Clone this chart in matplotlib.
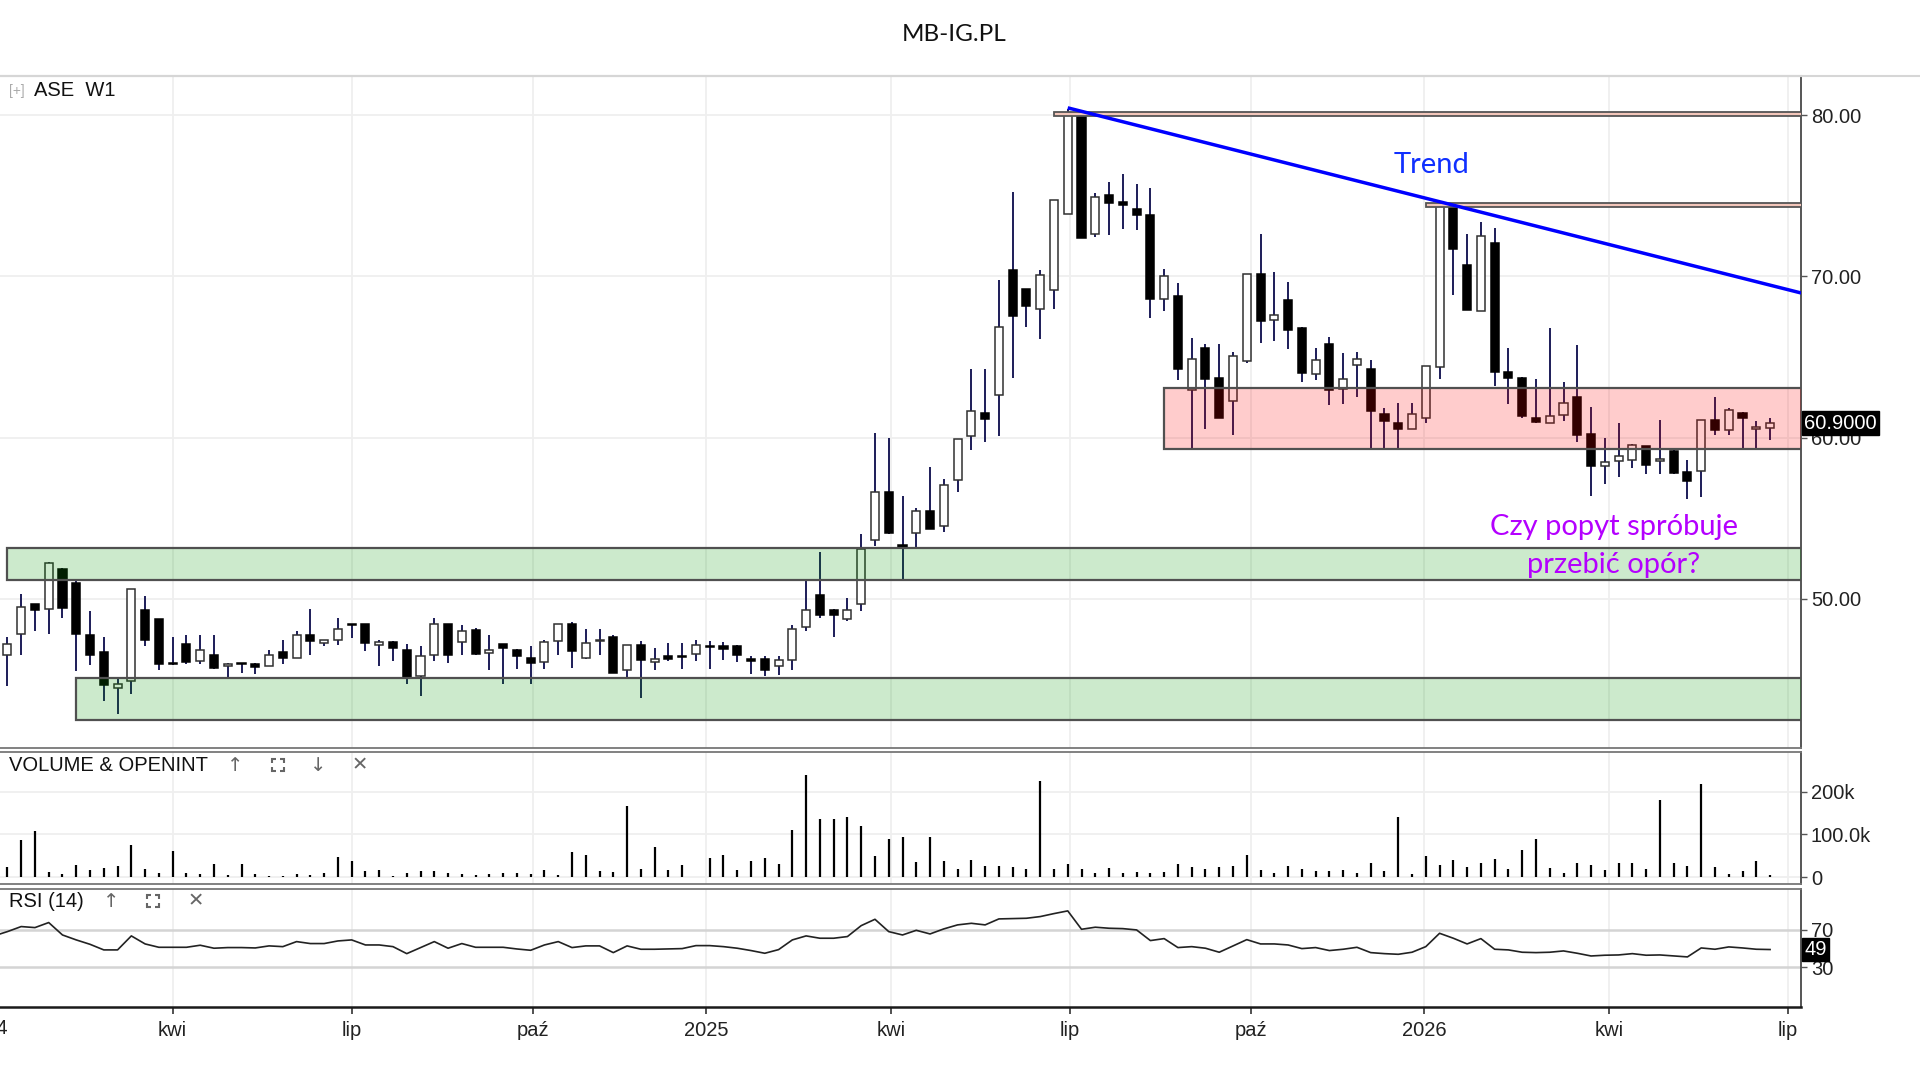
import numpy as np
import pandas as pd
import matplotlib
matplotlib.use("Agg")
import matplotlib.pyplot as plt
import matplotlib.dates as mdates
import matplotlib.transforms as mtransforms
from matplotlib.patches import Rectangle
from matplotlib.lines import Line2D

plt.rcParams['font.family'] = ['Liberation Sans', 'DejaVu Sans']

# ---------------- data ----------------
title = "MB-IG.PL"
symbol_label = "ASE  W1"
first_week = "2024-01-08"

opens = [46.54, 47.83, 49.65, 49.34, 51.82, 51.0, 47.78, 46.7, 44.47, 44.89,
         49.28, 48.72, 46.02, 47.2, 46.13, 46.54, 45.82, 45.98, 45.98, 45.82,
         46.69, 46.34, 47.78, 47.27, 47.43, 48.4, 48.41, 47.12, 47.33, 46.79,
         45.2, 46.5, 48.41, 47.33, 48.03, 46.65, 47.2, 46.85, 46.3, 46.07,
         47.37, 48.41, 46.3, 47.35, 47.62, 45.55, 47.14, 46.05, 46.44, 46.44,
         46.58, 47.08, 47.08, 47.08, 46.27, 46.27, 45.8, 46.17, 48.22, 50.21,
         49.32, 48.76, 49.66, 53.67, 56.65, 53.35, 54.05, 55.42, 54.52, 57.34,
         60.11, 61.51, 62.62, 70.41, 69.19, 67.95, 69.17, 73.88, 80.1, 72.6,
         75.02, 74.6, 74.19, 73.82, 68.57, 68.76, 62.93, 65.56, 63.7, 62.27,
         64.77, 70.12, 67.27, 68.51, 66.82, 63.93, 65.83, 62.98, 64.48, 64.28,
         61.44, 60.93, 60.54, 61.24, 64.39, 74.45, 70.68, 67.84, 72.08, 64.04,
         63.71, 61.2, 60.93, 61.4, 62.49, 60.23, 58.25, 58.52, 58.62, 59.48,
         58.52, 59.18, 57.86, 57.9, 61.09, 60.47, 61.55, 60.52, 60.58]
highs = [47.62, 50.31, 49.7, 52.3, 51.9, 51.14, 49.23, 47.62, 45.05, 50.6,
         50.17, 48.75, 47.62, 47.78, 47.78, 47.78, 46.0, 46.0, 46.0, 46.85,
         47.41, 47.99, 49.34, 47.45, 48.82, 48.42, 48.45, 47.47, 47.35, 47.2,
         47.06, 48.82, 48.45, 48.36, 48.2, 47.78, 47.22, 46.87, 47.06, 47.47,
         48.45, 48.57, 48.14, 48.14, 47.78, 47.14, 47.39, 46.94, 47.25, 47.25,
         47.45, 47.39, 47.29, 47.1, 46.42, 46.42, 46.42, 48.34, 51.18, 52.88,
         49.34, 50.04, 53.99, 60.28, 59.96, 56.4, 55.63, 58.15, 57.44, 59.9,
         64.22, 64.22, 69.77, 75.2, 69.2, 70.41, 74.73, 80.4, 80.3, 75.16,
         75.85, 76.32, 75.74, 75.48, 70.43, 69.59, 66.18, 65.83, 65.79, 65.31,
         70.12, 72.6, 70.27, 69.65, 66.85, 65.56, 66.24, 65.27, 65.31, 64.79,
         61.86, 62.16, 62.16, 64.43, 74.5, 74.5, 72.6, 73.36, 72.99, 65.57,
         63.73, 63.63, 66.8, 63.46, 65.73, 61.88, 60.0, 60.93, 59.6, 59.5,
         61.09, 59.2, 58.58, 61.09, 62.54, 61.86, 61.57, 61.03, 61.24]
lows = [44.58, 46.5, 47.99, 47.83, 48.78, 45.5, 45.88, 43.64, 42.82, 44.06,
        47.06, 45.55, 45.88, 45.92, 45.96, 45.67, 45.13, 45.4, 45.3, 45.8,
        45.92, 46.3, 46.54, 47.06, 47.12, 47.58, 46.75, 45.82, 46.13, 44.72,
        43.95, 46.13, 46.02, 46.5, 46.5, 45.55, 44.72, 45.67, 44.72, 45.67,
        46.54, 45.71, 46.24, 46.54, 45.4, 44.99, 43.83, 45.59, 46.11, 45.65,
        46.11, 45.65, 46.17, 46.05, 45.32, 45.18, 45.28, 45.59, 47.97, 48.8,
        47.6, 48.59, 49.23, 53.24, 54.0, 51.15, 53.2, 54.3, 54.14, 56.65,
        59.25, 59.74, 60.11, 63.69, 66.84, 66.14, 68.0, 73.88, 72.39, 72.43,
        72.58, 72.91, 72.85, 67.42, 67.83, 63.55, 59.32, 60.5, 61.18, 60.14,
        64.63, 65.87, 65.99, 65.48, 63.45, 63.55, 62.0, 62.05, 62.52, 59.32,
        59.38, 59.38, 60.5, 60.93, 63.63, 68.82, 67.9, 67.84, 63.22, 62.08,
        61.2, 60.93, 60.9, 61.03, 59.71, 56.39, 57.13, 57.55, 58.14, 57.75,
        57.75, 57.75, 56.21, 56.31, 60.16, 60.16, 59.3, 59.24, 59.86]
closes = [47.2, 49.48, 49.32, 52.24, 49.44, 47.83, 46.5, 44.64, 44.68, 50.58,
          47.41, 45.96, 45.92, 46.09, 46.83, 45.71, 45.98, 45.94, 45.78, 46.54,
          46.34, 47.78, 47.37, 47.41, 48.14, 48.35, 47.27, 47.33, 46.92, 45.13,
          46.44, 48.41, 46.5, 47.99, 46.58, 46.85, 46.92, 46.44, 46.02, 47.33,
          48.41, 46.75, 47.27, 47.47, 45.4, 47.12, 46.17, 46.27, 46.27, 46.4,
          47.1, 47.0, 46.87, 46.48, 46.11, 45.55, 46.17, 48.14, 49.32, 48.96,
          48.96, 49.32, 53.07, 56.65, 54.05, 53.18, 55.42, 54.35, 57.08, 59.89,
          61.66, 61.13, 66.84, 67.53, 68.17, 70.09, 74.73, 80.1, 72.39, 74.95,
          74.55, 74.4, 73.78, 68.57, 70.0, 64.28, 64.86, 63.66, 61.18, 65.04,
          70.12, 67.23, 67.58, 66.65, 64.01, 64.79, 62.93, 63.66, 64.86, 61.65,
          61.03, 60.54, 61.46, 64.43, 74.45, 71.67, 67.9, 72.47, 64.08, 63.71,
          61.36, 60.95, 61.34, 62.16, 60.16, 58.21, 58.47, 58.87, 59.55, 58.31,
          58.68, 57.79, 57.28, 61.09, 60.47, 61.71, 61.2, 60.68, 60.9]

volume_k = [25, 87.5, 108.6, 11.7, 7, 28.9, 17.2, 22.7, 26.6, 75.8,
            19.5, 10.9, 61.7, 10.9, 7, 31.3, 5.5, 31.3, 7.8, 3.9,
            3.1, 7.8, 5.5, 10.9, 46.9, 38.3, 14.8, 17.2, 3.9, 10.9,
            14.8, 14.8, 9.4, 7.8, 5.5, 7.8, 9.4, 10.9, 7.8, 17.2,
            5.5, 58.6, 52.3, 14.8, 11.7, 167, 19.5, 70.3, 17.2, 28.9,
            1.6, 46.1, 52.3, 17.2, 38.3, 46.1, 32, 111, 240, 136.7,
            136.7, 140.6, 120.3, 50, 89.8, 93.8, 35.2, 93.8, 38.3, 19.5,
            40.6, 26.6, 26.6, 23.4, 19.5, 225.8, 19.5, 31.3, 19.5, 10.9,
            22.7, 10.9, 13.3, 10.9, 13.3, 31.3, 23.4, 19.5, 23.4, 26.6,
            52.3, 17.2, 10.9, 26.6, 19.5, 14.8, 14.8, 17.2, 10.9, 34.4,
            14.8, 140.6, 7.8, 50, 28.9, 40.6, 23.4, 34.4, 43, 19.5,
            64, 89.8, 22.7, 10.9, 34.4, 28.9, 17.2, 34.4, 34.4, 19.5,
            181, 34.4, 26.6, 218.8, 23.4, 7.8, 14.8, 38.3, 5.5]

rsi_start = "2024-01-01"
rsi_values = [63.5,
              68.2, 73.6, 72.5, 77.9, 64.6, 59.3, 54.6, 48.6, 48.6, 63.6,
              55, 51.4, 51.4, 51.4, 53.6, 50.4, 51.1, 51.1, 50.7, 52.9,
              52.1, 57.5, 55.4, 55.4, 58.2, 59.3, 53.9, 53.9, 52.1, 44.6,
              51.1, 57.5, 50.4, 55.4, 51.4, 51.4, 51.4, 49.6, 48.2, 53.9,
              57.5, 51.1, 52.9, 52.9, 45.7, 52.9, 49.3, 49.3, 49.6, 50,
              53.2, 53.2, 52.1, 50.4, 47.9, 45, 48.9, 59.3, 63.6, 61.1,
              61.1, 62.9, 74.6, 81.4, 68.2, 64.6, 69.6, 65.7, 71.1, 75.4,
              77.1, 75.4, 81.8, 82.1, 82.5, 84.3, 87.5, 90.4, 70.7, 72.9,
              71.8, 71.4, 70, 58.6, 60.7, 51.1, 52.1, 50.4, 46.1, 52.9,
              59.6, 55, 55, 53.9, 50, 51.1, 47.9, 49.3, 51.4, 45.7,
              44.6, 43.9, 46.1, 52.1, 66.4, 61.1, 55, 60.7, 49.3, 48.6,
              46.1, 45.7, 46.1, 47.5, 45, 42.1, 42.9, 43.2, 44.6, 42.9,
              43.2, 42.1, 41.1, 50.7, 49.3, 51.8, 50.7, 49.3, 49]

# the platform puts its year separators a few days before 1 January
tick_dates = ["2023-12-28", "2024-04-01", "2024-07-01", "2024-10-01", "2024-12-28",
              "2025-04-01", "2025-07-01", "2025-10-01", "2025-12-28", "2026-04-01",
              "2026-07-01"]
tick_labels = ["2024", "kwi", "lip", "paź", "2025", "kwi", "lip", "paź", "2026", "kwi", "lip"]

price_ticks = [50, 60, 70, 80]
volume_ticks = [0, 100000, 200000]
volume_tick_labels = ["0", "100.0k", "200k"]
rsi_ticks = [30, 70]

support_upper = ("2024-01-08", 51.18, 53.13)
support_lower = ("2024-02-12", 42.5, 45.11)
resistance_zone = ("2025-08-18", 59.3, 63.08)
resistance_levels = [("2025-06-23", 80.05), ("2025-12-29", 74.42)]
trend_points = [("2025-06-30", 80.45), ("2026-01-14", 74.35)]
last_price = 60.9
last_rsi = 49

# ---------------- derived ----------------
o = np.array(opens); h = np.array(highs); l = np.array(lows); c = np.array(closes)
dates = pd.date_range(first_week, periods=len(o), freq="7D")
x = mdates.date2num(dates)
rsi_dates = pd.date_range(rsi_start, periods=len(rsi_values), freq="7D")
xr = mdates.date2num(rsi_dates)
vol = np.array(volume_k) * 1000

x0 = mdates.date2num(pd.Timestamp(first_week)) - 3.76
x1 = mdates.date2num(pd.Timestamp(first_week)) + 911.8
tick_x = mdates.date2num(pd.to_datetime(tick_dates))

# ---------------- figure ----------------
fig = plt.figure(figsize=(19.2, 10.8), dpi=100)
W = 0.9381
ax = fig.add_axes([0.0, 0.3077, W, 0.6220])
axv = fig.add_axes([0.0, 0.1812, W, 0.1222])
axr = fig.add_axes([0.0, 0.0673, W, 0.1096])

grid_c = "#efefef"
for a in (ax, axv, axr):
    a.set_xticks(tick_x)
    a.xaxis.grid(True, color=grid_c, lw=1.3, zorder=0)
    a.set_axisbelow(True)
    a.spines['left'].set_visible(False)
    a.spines['right'].set_color("#555555")
    a.spines['right'].set_linewidth(1.4)
    a.yaxis.tick_right()
    a.tick_params(axis='y', which='both', direction='out', length=4, width=1,
                  color="#555555", labelsize=14.5, labelcolor="#222222", pad=3)
    a.set_facecolor("white")

for a in (ax, axv):
    a.tick_params(axis='x', length=0, labelbottom=False)

# ---- main price panel ----
ax.set_ylim(40.76, 82.43)
ax.set_yticks(price_ticks)
ax.set_yticklabels([f"{v:.2f}" for v in price_ticks])
ax.yaxis.grid(True, color=grid_c, lw=1.3, zorder=0)
ax.spines['top'].set_color("#d0d0d0")
ax.spines['top'].set_linewidth(1.5)
ax.spines['bottom'].set_color("#777777")
ax.spines['bottom'].set_linewidth(1.3)

up = c >= o
body_lo = np.minimum(o, c)
body_h = np.maximum(np.abs(c - o), 0.07)
ax.vlines(x, l, h, color="#1c1c58", lw=1.4, zorder=2)
ax.bar(x[up], body_h[up], bottom=body_lo[up], width=4.1, facecolor="white",
       edgecolor="#303030", linewidth=1.1, zorder=3)
ax.bar(x[~up], body_h[~up], bottom=body_lo[~up], width=4.1, facecolor="black",
       edgecolor="black", linewidth=1.1, zorder=3)

def zone(spec, face):
    xs = mdates.date2num(pd.Timestamp(spec[0]))
    ax.add_patch(Rectangle((xs, spec[1]), x1 - xs + 5, spec[2] - spec[1],
                           facecolor=face, edgecolor="#505050", linewidth=1.6,
                           zorder=4))

zone(support_upper, (0.0, 0.6, 0.0, 0.2))
zone(support_lower, (0.0, 0.6, 0.0, 0.2))
zone(resistance_zone, (1.0, 0.0, 0.0, 0.2))

for d, lvl in resistance_levels:
    xs = mdates.date2num(pd.Timestamp(d))
    ax.add_patch(Rectangle((xs, lvl - 0.12), x1 - xs + 5, 0.24,
                           facecolor="#f3c6ba", edgecolor="#555555",
                           linewidth=1.3, zorder=5))

(ta, ya), (tb, yb) = trend_points
xa = mdates.date2num(pd.Timestamp(ta)); xb = mdates.date2num(pd.Timestamp(tb))
slope = (yb - ya) / (xb - xa)
ax.plot([xa, x1], [ya, ya + slope * (x1 - xa)], color="#0000ff", lw=2.5,
        solid_capstyle='butt', zorder=6)

lab_tr = mtransforms.blended_transform_factory(ax.transAxes, ax.transData)
ax.text(1.0 + 3 / 1801, last_price, f"{last_price:.4f}", transform=lab_tr,
        ha='left', va='center', color='white', fontsize=14.5, zorder=10,
        clip_on=False,
        bbox=dict(boxstyle='square,pad=0.12', facecolor='black', edgecolor='black'))

# ---- volume panel ----
axv.set_ylim(-16400, 292000)
axv.set_yticks(volume_ticks)
axv.set_yticklabels(volume_tick_labels)
axv.yaxis.grid(True, color=grid_c, lw=1.3, zorder=0)
axv.vlines(x, 0, vol, color="black", lw=1.6, zorder=3)
for s in ('top', 'bottom'):
    axv.spines[s].set_color("#777777")
    axv.spines[s].set_linewidth(1.3)

# ---- RSI panel ----
axr.set_ylim(-12.9, 113.9)
axr.set_yticks(rsi_ticks)
axr.set_yticklabels([str(v) for v in rsi_ticks])
for lv in rsi_ticks:
    axr.axhline(lv, color="#d4d4d4", lw=1.8, zorder=1)
axr.plot(xr, rsi_values, color="#222222", lw=1.2, zorder=3)
axr.spines['top'].set_color("#777777")
axr.spines['top'].set_linewidth(1.3)
axr.spines['bottom'].set_color("#1a1a1a")
axr.spines['bottom'].set_linewidth(1.8)
axr.set_xticklabels(tick_labels)
axr.tick_params(axis='x', direction='out', length=5, width=1.2, color="#333333",
                labelsize=14.5, labelcolor="#222222", pad=5)

# set the visible range after the ticks (set_xticks would widen it)
for a in (ax, axv, axr):
    a.set_xlim(x0, x1)

lab_rt = mtransforms.blended_transform_factory(axr.transAxes, axr.transData)
axr.text(1.0 + 3 / 1801, last_rsi, f"{last_rsi}", transform=lab_rt,
         ha='left', va='center', color='white', fontsize=14.5, zorder=10,
         clip_on=False,
         bbox=dict(boxstyle='square,pad=0.12', facecolor='black', edgecolor='black'))
# year label whose tick lies just left of the visible range (only its tail shows)
for td, tl in zip(tick_x, tick_labels):
    if td < x0:
        t = mtransforms.blended_transform_factory(axr.transData, fig.transFigure)
        axr.text(td, 0.0476, tl, transform=t, ha='center', va='center',
                 fontsize=14.5, color="#222222", clip_on=False)

# ---------------- decorations ----------------
FW, FH = 1920.0, 1080.0

def corners_icon(cx, cy, size=12, arm=4, color="#666666"):
    # "four corners" (maximise) icon; no installed font has U+26F6
    hs = size / 2.0
    for sx in (-1, 1):
        for sy in (-1, 1):
            px = cx * FW + sx * hs
            py = cy * FH + sy * hs
            xs = [(px - sx * arm) / FW, px / FW, px / FW]
            ys = [py / FH, py / FH, (py - sy * arm) / FH]
            fig.add_artist(Line2D(xs, ys, color=color, lw=1.5,
                                  solid_capstyle='butt', solid_joinstyle='miter'))

fig.add_artist(Line2D([0, 1], [0.9297, 0.9297], color="#d6d6d6", lw=1.5))
fig.text(0.4968, 0.9683, title, ha='center', va='center', fontsize=17.5,
         family=['Lato', 'DejaVu Sans'], color="#111111")
fig.text(0.0045, 0.9161, "[+]", ha='left', va='center', fontsize=10, color="#aaaaaa")
fig.text(0.01786, 0.9161, symbol_label, ha='left', va='center', fontsize=14.5,
         color="#111111")
fig.text(0.0045, 0.2914, "VOLUME & OPENINT", ha='left', va='center',
         fontsize=14.5, color="#111111")
for xi, sym in zip([0.1224, 0.1658, 0.1875], ["↑", "↓", "✕"]):
    fig.text(xi, 0.2914, sym, ha='center', va='center', fontsize=14, color="#666666",
             family=['DejaVu Sans'])
corners_icon(0.1448, 0.2914)
fig.text(0.0045, 0.1655, "RSI (14)", ha='left', va='center', fontsize=14.5,
         color="#111111")
for xi, sym in zip([0.058, 0.102], ["↑", "✕"]):
    fig.text(xi, 0.1655, sym, ha='center', va='center', fontsize=14, color="#666666",
             family=['DejaVu Sans'])
corners_icon(0.0797, 0.1655)

fig.text(0.7455, 0.847, "Trend", ha='center', va='center', fontsize=21,
         family=['Lato', 'DejaVu Sans'], color="#1030ff")
fig.text(0.8406, 0.5125, "Czy popyt spróbuje", ha='center', va='center',
         fontsize=21, family=['Lato', 'DejaVu Sans'], color="#b400ff")
fig.text(0.8406, 0.4773, "przebić opór?", ha='center', va='center',
         fontsize=21, family=['Lato', 'DejaVu Sans'], color="#b400ff")

fig.savefig("out.png", dpi=100)
